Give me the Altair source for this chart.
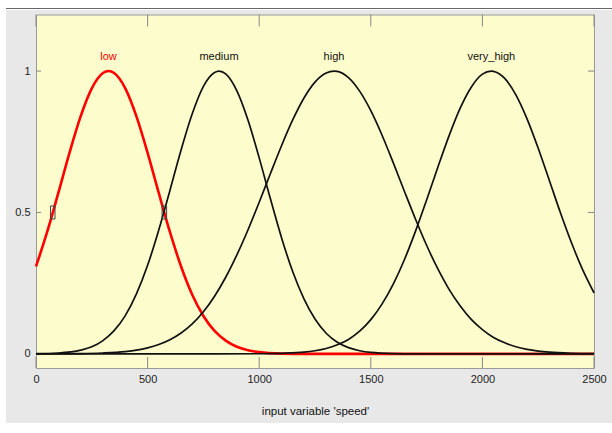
import altair as alt
import pandas as pd

# ---- data ----
low_x = [0, 50, 100, 150, 200, 250, 300, 325, 350, 400, 450, 500, 550, 600, 650, 700, 750, 800,
         850, 900, 950, 1000, 1100, 1200, 1300, 1500, 2000, 2500]
low_y = [0.309, 0.431, 0.569, 0.711, 0.840, 0.939, 0.993, 1.0, 0.993, 0.939, 0.840, 0.711, 0.569,
         0.431, 0.309, 0.209, 0.134, 0.081, 0.047, 0.025, 0.013, 0.006, 0.001, 0.0, 0.0, 0.0, 0.0, 0.0]

medium_x = [0, 100, 200, 250, 300, 350, 400, 450, 500, 550, 600, 650, 700, 750, 800, 820, 850, 900,
            950, 1000, 1050, 1100, 1150, 1200, 1250, 1300, 1350, 1400, 1450, 1500, 1600, 1700, 2000, 2500]
medium_y = [0.0005, 0.003, 0.013, 0.025, 0.047, 0.082, 0.135, 0.212, 0.313, 0.438, 0.578, 0.721, 0.849,
            0.946, 0.995, 1.0, 0.990, 0.930, 0.826, 0.693, 0.549, 0.411, 0.291, 0.195, 0.123, 0.073,
            0.041, 0.022, 0.011, 0.005, 0.001, 0.0, 0.0, 0.0]

high_x = [0, 200, 300, 400, 450, 500, 550, 600, 650, 700, 750, 800, 850, 900, 950, 1000, 1050, 1100,
          1150, 1200, 1250, 1300, 1335, 1350, 1400, 1450, 1500, 1550, 1600, 1650, 1700, 1750, 1800,
          1850, 1900, 1950, 2000, 2050, 2100, 2150, 2200, 2250, 2300, 2400, 2500]
high_y = [0.0, 0.001, 0.003, 0.008, 0.013, 0.021, 0.033, 0.050, 0.074, 0.106, 0.149, 0.204, 0.271,
          0.350, 0.439, 0.536, 0.637, 0.736, 0.827, 0.904, 0.961, 0.993, 1.0, 0.999, 0.977, 0.929,
          0.860, 0.774, 0.677, 0.576, 0.477, 0.384, 0.301, 0.229, 0.170, 0.122, 0.086, 0.058, 0.039,
          0.025, 0.016, 0.010, 0.006, 0.002, 0.0005]

very_high_x = [0, 800, 1000, 1100, 1200, 1250, 1300, 1350, 1400, 1450, 1500, 1550, 1600, 1650, 1700,
               1750, 1800, 1850, 1900, 1950, 2000, 2040, 2050, 2100, 2150, 2200, 2250, 2300, 2350,
               2400, 2450, 2500]
very_high_y = [0.0, 0.0, 0.0004, 0.002, 0.006, 0.011, 0.019, 0.032, 0.051, 0.080, 0.121, 0.176, 0.246,
               0.332, 0.433, 0.544, 0.659, 0.770, 0.868, 0.943, 0.989, 1.0, 0.999, 0.974, 0.916, 0.831,
               0.727, 0.613, 0.498, 0.391, 0.296, 0.216]

mf_names = ["low", "medium", "high", "very_high"]
mf_label_x = [325, 820, 1335, 2040]
mf_label_y = [1.05, 1.05, 1.05, 1.05]
mf_colors = ["#ff0000", "#111111", "#111111", "#111111"]

marker_x = [75, 575]
marker_y = [0.5, 0.5]

x_ticks = [0, 500, 1000, 1500, 2000, 2500]
y_ticks = [0, 0.5, 1]

# ---- tables ----
low_df = pd.DataFrame({"x": low_x, "y": low_y, "mf": "low"})
others_df = pd.concat([
    pd.DataFrame({"x": medium_x, "y": medium_y, "mf": "medium"}),
    pd.DataFrame({"x": high_x, "y": high_y, "mf": "high"}),
    pd.DataFrame({"x": very_high_x, "y": very_high_y, "mf": "very_high"}),
])
label_df = pd.DataFrame({"x": mf_label_x, "y": mf_label_y, "mf": mf_names})
marker_df = pd.DataFrame({"x": marker_x, "y": marker_y})
xt_df = pd.DataFrame({"x": x_ticks})
yt_df = pd.DataFrame({"y": y_ticks})
one = pd.DataFrame({"a": [0]})

FONT = "Liberation Sans, Arial, sans-serif"
W = 558
H = 353.5

xs = alt.Scale(domain=[0, 2500], nice=False, zero=False)
ys = alt.Scale(domain=[-0.05, 1.2], nice=False, zero=False)

x_axis = alt.Axis(values=x_ticks, format="d", ticks=False, domain=False, grid=False,
                  labelFont=FONT, labelFontSize=11, labelColor="#222222", labelPadding=5,
                  labelFlush=False, title="input variable 'speed'", titleFont=FONT,
                  titleFontSize=11.5, titleFontWeight="normal", titleColor="#111111",
                  titlePadding=21, zindex=1)
y_axis = alt.Axis(values=y_ticks, labelExpr="'' + datum.value", ticks=False, domain=False,
                  grid=False, labelFont=FONT, labelFontSize=11, labelColor="#222222",
                  labelPadding=6, title=None, zindex=1)


def X():
    return alt.X("x:Q", scale=xs, axis=x_axis, title="input variable 'speed'")


def Y():
    return alt.Y("y:Q", scale=ys, axis=y_axis, title=None)


# decorations outside the panel
top_strip = alt.Chart(one).mark_rect(color="white").encode(
    x=alt.value(-36), x2=alt.value(576), y=alt.value(-14.5), y2=alt.value(-4.5))
left_strip = alt.Chart(one).mark_rect(color="white").encode(
    x=alt.value(-36), x2=alt.value(-30), y=alt.value(-14.5), y2=alt.value(418.5))
bottom_strip = alt.Chart(one).mark_rect(color="white").encode(
    x=alt.value(-36), x2=alt.value(576), y=alt.value(408.5), y2=alt.value(418.5))
top_line = alt.Chart(one).mark_rule(color="#666666", strokeWidth=1).encode(
    x=alt.value(-30), x2=alt.value(576), y=alt.value(-6))

# inward ticks
xt_bottom = alt.Chart(xt_df).mark_rule(color="#888888", strokeWidth=1).encode(
    x=X(), y=alt.value(H - 11), y2=alt.value(H))
xt_top = alt.Chart(xt_df).mark_rule(color="#888888", strokeWidth=1).encode(
    x=X(), y=alt.value(0), y2=alt.value(12))
yt_left = alt.Chart(yt_df).mark_rule(color="#888888", strokeWidth=1).encode(
    y=Y(), x=alt.value(0), x2=alt.value(5))
yt_right = alt.Chart(yt_df).mark_rule(color="#888888", strokeWidth=1).encode(
    y=Y(), x=alt.value(W - 6), x2=alt.value(W))

low_line = alt.Chart(low_df).mark_line(color="#ff0000", strokeWidth=2.6, interpolate="monotone").encode(
    x=X(), y=Y(),
)
other_lines = alt.Chart(others_df).mark_line(color="#111111", strokeWidth=1.7, interpolate="monotone").encode(
    x=X(), y=Y(), detail="mf:N",
)
labels = alt.Chart(label_df).mark_text(font=FONT, fontSize=11, baseline="middle", align="center").encode(
    x=X(), y=Y(),
    text="mf:N",
    color=alt.Color("mf:N", scale=alt.Scale(domain=mf_names, range=mf_colors), legend=None),
)
markers = alt.Chart(marker_df).mark_point(
    shape="M -0.35 -1 L 0.35 -1 L 0.35 1 L -0.35 1 Z", size=169, filled=False,
    stroke="#444444", strokeWidth=1, opacity=1).encode(
    x=X(), y=Y(),
)

chart = alt.layer(
    low_line, top_strip, left_strip, bottom_strip, top_line,
    xt_bottom, xt_top, yt_left, yt_right,
    other_lines, labels, markers,
).properties(
    width=W, height=H,
    autosize=alt.AutoSizeParams(type="none"),
    padding={"left": 36, "top": 14.5, "right": 18, "bottom": 65},
    background="#E8E8E8",
).configure_view(
    fill="#FDFCCC", stroke="#9A9A9A", strokeWidth=1,
)

chart.save("out.html", embed_options={"renderer": "svg", "actions": False})
